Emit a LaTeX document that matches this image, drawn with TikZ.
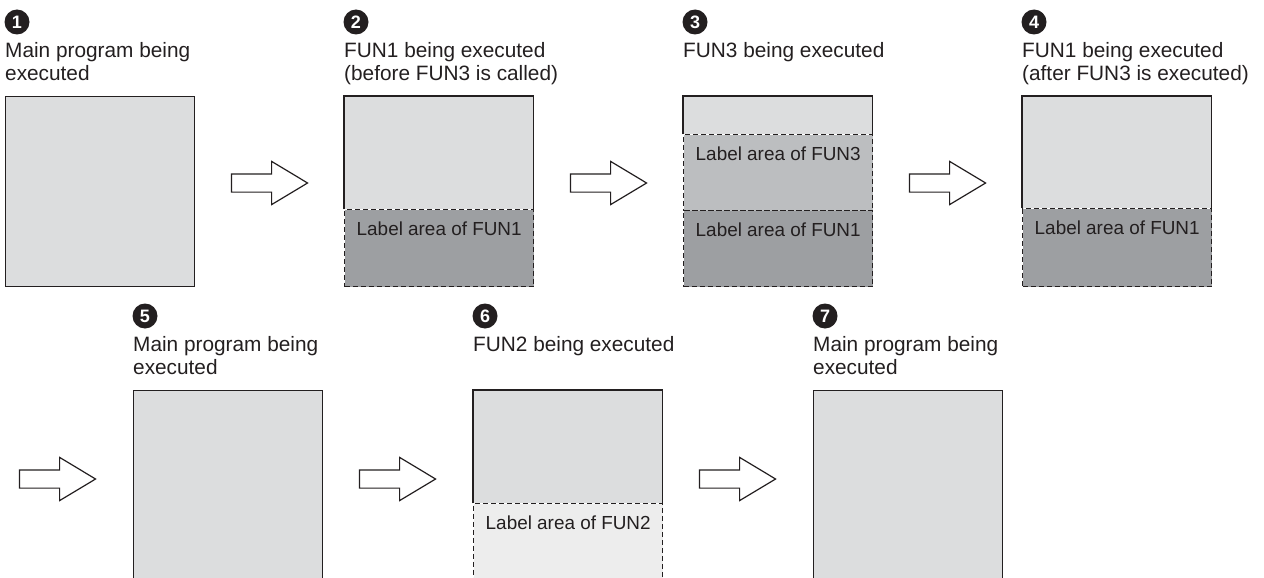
\documentclass[tikz,border=0pt]{standalone}
\usepackage{fontspec}
\setmainfont{Liberation Sans}
\usetikzlibrary{shapes.arrows}

\definecolor{inkgray}{HTML}{231F20}
\definecolor{pagegray}{HTML}{DCDDDE}
\definecolor{fungray}{HTML}{9D9FA2}
\definecolor{subgray}{HTML}{BCBEC0}
\definecolor{palegray}{HTML}{EDEDED}

\tikzset{
  stage/.style={draw=inkgray, line width=1.3pt, fill=pagegray, inner sep=0pt,
    minimum width=189pt, anchor=north west},
  stagetop/.style={fill=pagegray, inner sep=0pt, minimum width=189pt, anchor=north west},
  labarea/.style={draw=inkgray, line width=1.4pt, dash pattern=on 5pt off 3pt,
    inner sep=0pt, minimum width=189pt, anchor=north west, text=inkgray,
    font=\fontsize{18.9}{20}\selectfont, text height=26pt},
  steptitle/.style={anchor=north west, inner sep=0pt, align=left, text=inkgray,
    font=\fontsize{20.8}{23}\selectfont},
  stepnum/.style={circle, fill=inkgray, text=white, inner sep=0pt, minimum size=25pt,
    font=\bfseries\fontsize{18}{18}\selectfont},
  flowarrow/.style={single arrow, draw=inkgray, line width=1.2pt, fill=white,
    inner sep=8.5pt, minimum height=76pt, single arrow head extend=12.5pt,
    single arrow head indent=0pt, single arrow tip angle=62}
}

\begin{document}
\begin{tikzpicture}[x=1pt,y=-1pt]
\useasboundingbox (0,0) rectangle (1264,578);
\clip (0,0) rectangle (1264,578);

% Step 1: main program
\node[stage, minimum height=190pt] (box1) at (5,96) {};
\node[stepnum] (num1) at ([xshift=12pt,yshift=74pt]box1.north west) {1};
\node[steptitle] (title1) at ([yshift=54pt]box1.north west) {Main program being\\executed};

% Step 2: FUN1 before FUN3 is called
\node[stagetop, minimum height=113pt] (top2) at (344,96) {};
\draw[inkgray, line width=1.3pt] (top2.south west) |- (top2.north east) -- (top2.south east);
\node[labarea, fill=fungray, text depth=51pt] (area2) at (344,209) {Label area of FUN1};
\node[stepnum] (num2) at ([xshift=12pt,yshift=74pt]top2.north west) {2};
\node[steptitle] (title2) at ([yshift=54pt]top2.north west) {FUN1 being executed\\(before FUN3 is called)};

% Step 3: FUN3
\node[stagetop, minimum height=38pt] (top3) at (683,96) {};
\draw[inkgray, line width=1.3pt] (top3.south west) |- (top3.north east) -- (top3.south east);
\node[labarea, fill=subgray, text depth=50pt] (area3b) at (683,134) {Label area of FUN3};
\node[labarea, fill=fungray, text depth=50pt] (area3a) at (683,210) {Label area of FUN1};
\node[stepnum] (num3) at ([xshift=12pt,yshift=74pt]top3.north west) {3};
\node[steptitle] (title3) at ([yshift=54pt]top3.north west) {FUN3 being executed};

% Step 4: FUN1 after FUN3 is executed
\node[stagetop, minimum height=112pt] (top4) at (1022,96) {};
\draw[inkgray, line width=1.3pt] (top4.south west) |- (top4.north east) -- (top4.south east);
\node[labarea, fill=fungray, text depth=52pt] (area4) at (1022,208) {Label area of FUN1};
\node[stepnum] (num4) at ([xshift=12pt,yshift=74pt]top4.north west) {4};
\node[steptitle] (title4) at ([yshift=54pt]top4.north west) {FUN1 being executed\\(after FUN3 is executed)};

% Step 5: main program
\node[stage, minimum height=210pt] (box5) at (133,390) {};
\node[stepnum] (num5) at ([xshift=12pt,yshift=74pt]box5.north west) {5};
\node[steptitle] (title5) at ([yshift=54pt]box5.north west) {Main program being\\executed};

% Step 6: FUN2
\node[stagetop, minimum height=113pt] (top6) at (473,390) {};
\draw[inkgray, line width=1.3pt] (top6.south west) |- (top6.north east) -- (top6.south east);
\node[labarea, fill=palegray, text depth=74pt] (area6) at (473,503) {Label area of FUN2};
\node[stepnum] (num6) at ([xshift=12pt,yshift=74pt]top6.north west) {6};
\node[steptitle] (title6) at ([yshift=54pt]top6.north west) {FUN2 being executed};

% Step 7: main program
\node[stage, minimum height=210pt] (box7) at (813,390) {};
\node[stepnum] (num7) at ([xshift=12pt,yshift=74pt]box7.north west) {7};
\node[steptitle] (title7) at ([yshift=54pt]box7.north west) {Main program being\\executed};

% Arrows between the steps
\node[flowarrow] (arr12) at (262,183) {};
\node[flowarrow] (arr23) at (601,183) {};
\node[flowarrow] (arr34) at (940,183) {};
\node[flowarrow] (arr45) at (50,479) {};
\node[flowarrow] (arr56) at (390,479) {};
\node[flowarrow] (arr67) at (730,479) {};

\end{tikzpicture}
\end{document}
